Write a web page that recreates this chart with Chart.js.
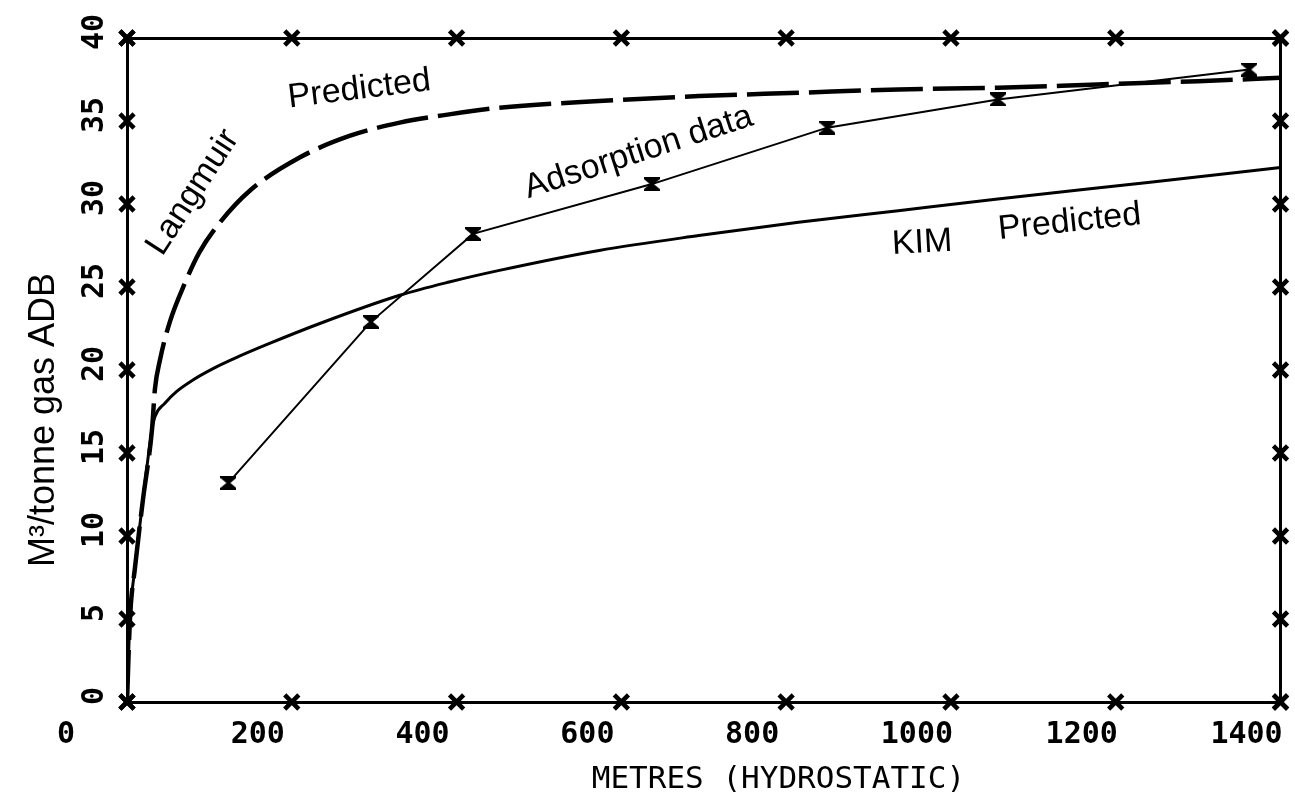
<!DOCTYPE html>
<html>
<head>
<meta charset="utf-8">
<script src="https://cdn.jsdelivr.net/npm/chart.js@4.4.1/dist/chart.umd.min.js"></script>
<style>
  html, body { margin: 0; padding: 0; background: #ffffff; }
  canvas { display: block; }
</style>
</head>
<body>
<canvas id="c" width="1295" height="795"></canvas>
<script>
// ---- tick values ----
const xTickValues = [0, 200, 400, 600, 800, 1000, 1200, 1400];
const yTickValues = [0, 5, 10, 15, 20, 25, 30, 35, 40];

// ---- series: adsorption data (measured points) ----
const adsorptionX = [123, 296, 420, 637, 850, 1057, 1362];
const adsorptionY = [13.2, 22.9, 28.2, 31.2, 34.6, 36.3, 38.1];

// ---- series: Langmuir predicted (dashed) ----
const langmuirX = [0, 3.6, 9.7, 19.4, 30.3, 34, 40, 52, 70, 88, 113, 149, 209.5, 270, 331, 391, 452, 573, 694, 815, 936, 1057, 1178, 1300, 1400];
const langmuirY = [0, 5.0, 8.1, 12.2, 16.4, 18.9, 20.6, 22.9, 25.2, 27.1, 28.9, 30.8, 32.8, 34.1, 34.9, 35.4, 35.8, 36.2, 36.5, 36.7, 36.9, 37.0, 37.2, 37.4, 37.6];

// ---- series: KIM predicted (solid) ----
const kimX = [0, 3.6, 9.7, 19.4, 30.3, 34, 46, 60, 80, 105, 135, 173, 234, 331, 391, 452, 573, 694, 815, 936, 1057, 1239, 1400];
const kimY = [0, 5.0, 8.1, 12.2, 16.4, 17.2, 18.0, 18.7, 19.4, 20.1, 20.8, 21.6, 22.8, 24.5, 25.3, 26.0, 27.2, 28.1, 28.9, 29.6, 30.3, 31.3, 32.2];

// ---- in-plot labels (anchored in data units) ----
const noteTexts  = ['Langmuir', 'Predicted', 'Adsorption data', 'KIM', 'Predicted'];
const noteX      = [80, 282, 621, 965, 1144];
const noteY      = [30.7, 36.9, 33.1, 27.65, 28.9];
const noteAngles = [-57, -7, -18, -3, -6];

const xMin = xTickValues[0], xMax = xTickValues[xTickValues.length - 1];
const yMin = yTickValues[0], yMax = yTickValues[yTickValues.length - 1];

const zip = (xs, ys) => xs.map((x, i) => ({ x: x, y: ys[i] }));

// frame tick markers on all four sides, built from the tick values
const frameMarks = [];
xTickValues.forEach(v => { frameMarks.push({ x: v, y: yMin }); frameMarks.push({ x: v, y: yMax }); });
yTickValues.forEach(v => { frameMarks.push({ x: xMin, y: v }); frameMarks.push({ x: xMax, y: v }); });

// hourglass marker for the adsorption data
const hourglass = document.createElement('canvas');
hourglass.width = 16; hourglass.height = 14;
(function () {
  const g = hourglass.getContext('2d');
  g.fillStyle = '#000';
  g.beginPath();
  g.moveTo(0, 0); g.lineTo(16, 0); g.lineTo(16, 2); g.lineTo(10, 7); g.lineTo(16, 12); g.lineTo(16, 14);
  g.lineTo(0, 14); g.lineTo(0, 12); g.lineTo(6, 7); g.lineTo(0, 2); g.closePath();
  g.fill();
})();

const MONO = "'DejaVu Sans Mono', 'Liberation Mono', monospace";
const SANS = "'Liberation Sans', Arial, sans-serif";

const whiteBg = {
  id: 'whiteBg',
  beforeDraw(chart) {
    const ctx = chart.ctx;
    ctx.save();
    ctx.fillStyle = '#ffffff';
    ctx.fillRect(0, 0, chart.width, chart.height);
    ctx.restore();
  }
};

const notes = {
  id: 'notes',
  afterDatasetsDraw(chart) {
    const ctx = chart.ctx;
    const xs = chart.scales.x, ys = chart.scales.y;
    ctx.save();
    ctx.fillStyle = '#000';
    ctx.font = '34px ' + SANS;
    ctx.textAlign = 'center';
    ctx.textBaseline = 'middle';
    noteTexts.forEach((t, i) => {
      ctx.save();
      ctx.translate(xs.getPixelForValue(noteX[i]), ys.getPixelForValue(noteY[i]));
      ctx.rotate(noteAngles[i] * Math.PI / 180);
      ctx.fillText(t, 0, 0);
      ctx.restore();
    });
    ctx.restore();
  }
};

const noSidePad = s => { s.paddingLeft = 0; s.paddingRight = 0; s.paddingTop = 0; s.paddingBottom = 0; };

Chart.defaults.color = '#000';

new Chart(document.getElementById('c'), {
  type: 'scatter',
  data: {
    datasets: [
      {
        label: 'KIM Predicted',
        data: zip(kimX, kimY),
        showLine: true,
        borderColor: '#000',
        borderWidth: 3,
        pointRadius: 0,
        tension: 0.4,
        cubicInterpolationMode: 'monotone'
      },
      {
        label: 'Langmuir Predicted',
        data: zip(langmuirX, langmuirY),
        showLine: true,
        borderColor: '#000',
        borderWidth: 4.5,
        borderDash: [52, 10],
        pointRadius: 0,
        tension: 0.4,
        cubicInterpolationMode: 'monotone'
      },
      {
        label: 'Adsorption data',
        data: zip(adsorptionX, adsorptionY),
        showLine: true,
        borderColor: '#000',
        borderWidth: 2,
        tension: 0,
        pointStyle: hourglass,
        pointRadius: 7
      },
      {
        label: 'frame',
        data: frameMarks,
        showLine: false,
        pointStyle: 'crossRot',
        pointRadius: 10,
        pointBorderWidth: 4.5,
        borderColor: '#000',
        backgroundColor: '#000',
        clip: false
      }
    ]
  },
  options: {
    responsive: false,
    animation: false,
    events: [],
    layout: { padding: { left: 0, right: 12, top: 38, bottom: 0 } },
    plugins: {
      legend: { display: false },
      tooltip: { enabled: false },
      title: { display: false }
    },
    scales: {
      x: {
        type: 'linear',
        position: 'bottom',
        min: xMin, max: xMax,
        afterBuildTicks: s => { s.ticks = xTickValues.map(v => ({ value: v })); },
        afterFit: s => { s.height = 93; noSidePad(s); },
        grid: { display: false, drawTicks: false },
        border: { display: true, color: '#000', width: 3 },
        ticks: {
          autoSkip: false,
          maxRotation: 0, minRotation: 0,
          padding: 15,
          labelOffset: -34,
          color: '#000',
          font: { family: MONO, size: 30, weight: 'bold' },
          callback: v => (v === 0 ? '0   ' : String(v))
        },
        title: {
          display: true,
          text: '        METRES (HYDROSTATIC)',
          color: '#000',
          font: { family: MONO, size: 31, weight: 'normal', lineHeight: 1 },
          padding: { top: 0, bottom: 0 }
        }
      },
      y: {
        type: 'linear',
        position: 'left',
        min: yMin, max: yMax,
        afterBuildTicks: s => { s.ticks = yTickValues.map(v => ({ value: v })); },
        afterFit: s => { s.width = 127; noSidePad(s); },
        grid: { display: false, drawTicks: false },
        border: { display: true, color: '#000', width: 3 },
        ticks: {
          minRotation: 90, maxRotation: 90,
          crossAlign: 'center',
          padding: 14,
          labelOffset: -6,
          color: '#000',
          font: { family: MONO, size: 30, weight: 'bold' }
        },
        title: {
          display: true,
          text: 'M³/tonne gas ADB          ',
          color: '#000',
          font: { family: SANS, size: 36, weight: 'normal' },
          padding: { top: 22, bottom: 0 }
        }
      },
      xTop: {
        type: 'linear',
        position: 'top',
        min: xMin, max: xMax,
        afterFit: s => { s.height = 0; noSidePad(s); },
        grid: { display: false, drawTicks: false },
        border: { display: true, color: '#000', width: 3 },
        ticks: { display: false }
      },
      yRight: {
        type: 'linear',
        position: 'right',
        min: yMin, max: yMax,
        afterFit: s => { s.width = 0; noSidePad(s); },
        grid: { display: false, drawTicks: false },
        border: { display: true, color: '#000', width: 3 },
        ticks: { display: false }
      }
    }
  },
  plugins: [whiteBg, notes]
});
</script>
</body>
</html>
